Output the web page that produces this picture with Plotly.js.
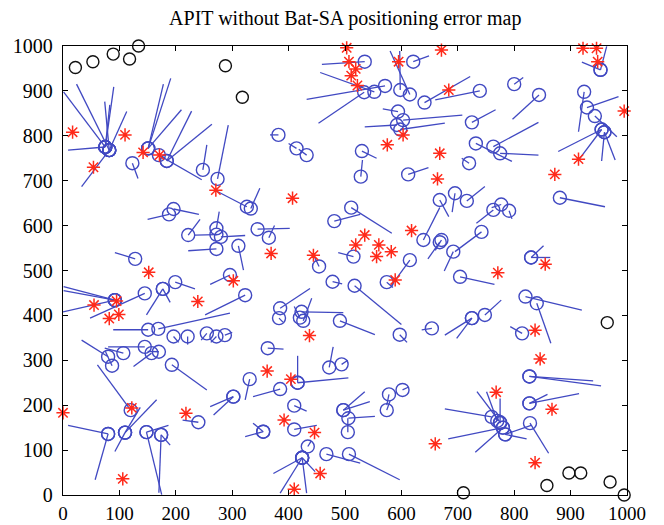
<!DOCTYPE html>
<html>
<head>
<meta charset="utf-8">
<script src="https://cdn.plot.ly/plotly-3.0.1.min.js"></script>
<style>html,body{margin:0;padding:0;background:#fff;}#chart{width:664px;height:525px;}</style>
</head>
<body>
<div id="chart"></div>
<script>
// Unknown nodes: circle = node position, line end = APIT estimate
var nodeX = [75,82,75,82,75,82,75,82,151,151,151,184,184,170,123,248,274,
  535,571,552,534,615,621,598,641,592,603,598,594,382,414,432,530,528,612,
  739,800,844,725,732,763,775,720,924,929,943,955,955,960,960,953,953,
  196,188,222,272,272,280,272,311,326,128,199,177,177,145,92,92,92,296,323,151,169,196,221,255,272,287,
  333,511,481,345,365,515,454,478,517,574,639,615,668,668,385,383,423,426,420,491,597,654,
  695,716,763,777,791,881,742,692,671,704,830,830,820,840,725,725,748,814,
  80,87,107,145,157,170,193,120,80,80,110,110,110,148,148,174,174,240,302,302,331,
  363,385,416,416,472,494,410,355,355,410,497,497,506,505,578,602,574,434,424,424,424,424,467,507,
  827,827,827,827,828,760,775,770,775,780,780,784,784];
var nodeY = [775,768,775,768,775,768,775,768,772,772,772,744,744,757,739,724,704,
  965,911,898,897,892,965,902,874,824,835,814,854,802,772,757,766,709,714,
  900,915,891,830,783,776,761,739,898,863,844,814,814,808,808,947,947,
  637,625,579,594,580,575,548,555,642,526,474,459,459,449,434,434,434,490,445,368,370,353,353,360,353,356,
  638,640,610,592,573,531,509,475,466,474,568,523,563,657,416,394,408,388,395,388,357,371,
  672,655,635,647,633,662,586,542,568,486,529,529,442,427,394,394,401,360,
  308,288,316,330,316,319,290,189,136,136,139,139,139,140,140,134,134,162,219,219,258,
  327,236,250,250,284,291,199,141,141,146,189,189,171,140,224,234,189,108,83,83,83,83,91,91,
  264,264,204,204,160,174,162,165,160,150,150,135,135];
var estX = [1,24,90,74,83,113,9,33,178,191,210,228,264,246,133,255,293,
  459,432,456,453,580,649,597,722,535,708,677,567,367,400,418,556,531,648,
  660,816,797,767,796,843,843,707,914,985,982,878,914,955,979,920,964,
  241,150,243,277,234,323,222,320,272,92,234,148,190,48,1,1,0,261,252,89,296,205,221,245,262,300,
  349,583,527,402,375,488,444,495,600,585,668,583,647,684,438,390,497,441,410,553,610,636,
  690,748,733,760,796,961,695,676,660,765,864,852,920,865,677,698,777,793,
  33,75,74,80,125,150,255,61,9,57,166,137,92,175,187,190,170,212,261,267,323,
  391,337,416,506,479,505,432,323,337,450,535,544,553,505,574,612,580,440,373,385,432,447,527,597,
  940,954,915,859,861,677,734,751,775,683,731,822,830];
var estY = [898,915,909,876,869,854,768,687,915,928,858,855,826,702,705,780,824,
  959,881,941,828,989,978,989,932,820,846,828,860,802,783,770,750,746,729,
  880,930,837,858,743,830,757,750,809,887,798,765,746,744,746,964,999,
  625,614,614,631,579,578,544,501,677,540,459,401,429,394,464,455,408,469,401,368,405,340,335,345,340,362,
  683,583,625,594,600,540,535,470,380,462,640,468,526,620,460,385,406,438,420,357,340,368,
  630,687,605,640,615,642,542,499,545,469,529,555,412,338,356,349,434,375,
  345,320,327,330,286,320,234,290,155,34,212,195,97,1,155,111,5,167,197,178,212,
  325,219,310,261,330,300,187,130,160,155,230,208,175,171,200,240,210,120,48,4,4,52,71,34,
  254,243,226,224,93,192,230,230,215,125,95,125,155];
// Anchor (beacon) nodes
var anchorX = [17,110,54,142,171,271,503,507,519,511,522,595,671,603,575,668,664,407,
  684,922,946,948,995,914,872,152,55,95,82,99,239,302,369,444,535,519,560,582,556,618,589,437,
  771,855,837,0,122,218,106,362,404,392,446,456,410,660,846,768,867,837];
var anchorY = [808,802,730,763,757,679,996,965,949,934,912,965,991,802,780,761,704,661,
  902,995,995,965,855,748,714,496,423,432,393,402,431,477,538,534,579,557,557,542,531,589,479,355,
  495,514,367,183,194,182,36,276,258,167,139,48,13,114,303,229,191,72];
// Nodes that could not be localized
var failX = [22,53,89,118,134,288,318,710,858,897,918,970,995,965];
var failY = [952,965,982,971,1000,956,886,5,21,49,49,29,0,384];

var lx = [], ly = [];
for (var i = 0; i < nodeX.length; i++) {
  lx.push(nodeX[i], estX[i], null);
  ly.push(nodeY[i], estY[i], null);
}
var blue = '#4149c2';
var traces = [
  {x: lx, y: ly, mode: 'lines', type: 'scatter', line: {color: blue, width: 1.3}, hoverinfo: 'skip', showlegend: false},
  {x: nodeX, y: nodeY, mode: 'markers', type: 'scatter', cliponaxis: false,
   marker: {symbol: 'circle-open', size: 13, color: blue, line: {width: 1.4, color: blue}}, showlegend: false},
  {x: anchorX, y: anchorY, mode: 'markers', type: 'scatter', cliponaxis: false,
   marker: {symbol: 'asterisk-open', size: 11, color: '#ff2a1a', line: {width: 1.5, color: '#ff2a1a'}}, showlegend: false},
  {x: failX, y: failY, mode: 'markers', type: 'scatter', cliponaxis: false,
   marker: {symbol: 'circle-open', size: 12, color: '#111', line: {width: 1.4, color: '#111'}}, showlegend: false}
];
var tickVals = [0,100,200,300,400,500,600,700,800,900,1000];
var tickText = ['0','100','200','300','400','500','600','700','800','900','1000'];
var axisCommon = {
  range: [0, 1000], tickvals: tickVals, ticktext: tickText, ticks: 'inside', ticklen: 5,
  tickcolor: '#000', showline: true, linecolor: '#000', linewidth: 1.3, mirror: 'ticks',
  showgrid: false, zeroline: false, fixedrange: true,
  tickfont: {family: 'Liberation Serif, Times New Roman, serif', size: 20, color: '#000'}
};
var layout = {
  width: 664, height: 525,
  margin: {l: 63, r: 37, t: 46, b: 30},
  paper_bgcolor: '#fff', plot_bgcolor: '#fff',
  title: {text: 'APIT without Bat-SA positioning error map', x: 0.52, xanchor: 'center', y: 0.965, yanchor: 'middle',
          font: {family: 'Liberation Serif, Times New Roman, serif', size: 20, color: '#000'}},
  xaxis: Object.assign({}, axisCommon, {ticklabelstandoff: 1,
          tickfont: {family: 'Liberation Serif, Times New Roman, serif', size: 19, color: '#000'}}),
  yaxis: Object.assign({}, axisCommon, {ticklabelstandoff: 5}),
  showlegend: false
};
Plotly.newPlot('chart', traces, layout, {staticPlot: true});
</script>
</body>
</html>
